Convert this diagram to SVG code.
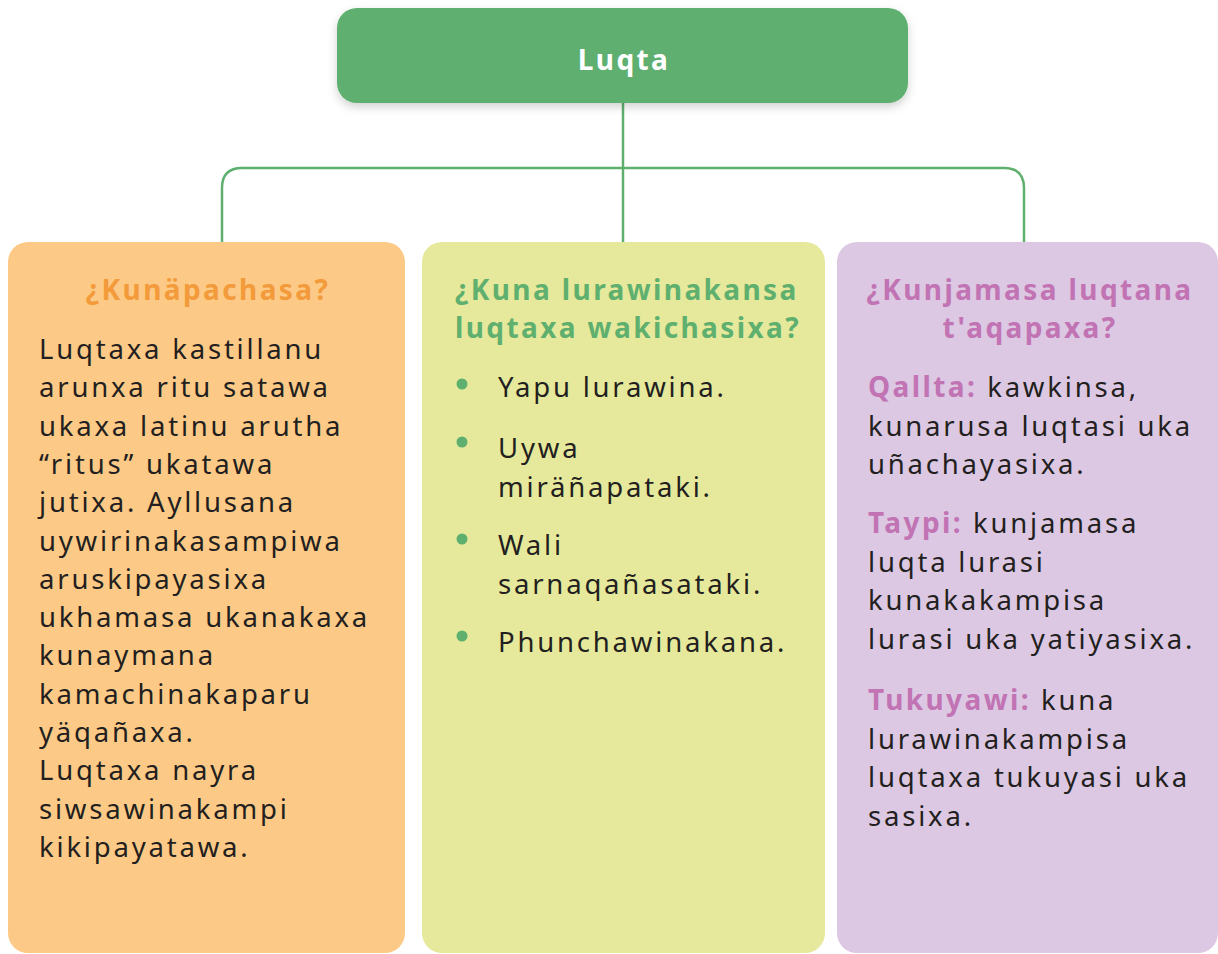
<svg xmlns="http://www.w3.org/2000/svg" width="1218" height="954" viewBox="0 0 1218 954">
<defs>
<filter id="sh" x="-10%" y="-20%" width="120%" height="160%">
<feDropShadow dx="0" dy="4" stdDeviation="5" flood-color="#000" flood-opacity="0.18"/>
</filter>
</defs>
<style>
.body{font-family:"Noto Sans","Liberation Sans",sans-serif;font-size:27.5px;letter-spacing:2.8px;fill:#231f20}
.hd{font-family:"Noto Sans","Liberation Sans",sans-serif;font-size:28px;font-weight:bold;letter-spacing:2.4px}
.conn{fill:none;stroke:#5fb06f;stroke-width:2.5}
</style>
<rect width="1218" height="954" fill="#fff"/>
<g id="connectors">
<path class="conn" d="M623 103 V242"/>
<path class="conn" d="M222 242 V188 Q222 168 242 168 H1004 Q1024 168 1024 188 V242"/>
</g>
<g id="root">
<rect x="337" y="8" width="571" height="95" rx="20" fill="#5fb06f" filter="url(#sh)"/>
<text x="624" y="70" text-anchor="middle" class="hd" fill="#fff" font-size="32" letter-spacing="1.5">Luqta</text>
</g>
<g id="when">
<rect x="8" y="242" width="397" height="711" rx="20" fill="#fcca86"/>
<text x="208" y="300" text-anchor="middle" class="hd" fill="#f39a3a">¿Kunäpachasa?</text>
<text class="body">
<tspan x="39" y="359">Luqtaxa kastillanu</tspan>
<tspan x="39" y="397.3">arunxa ritu satawa</tspan>
<tspan x="39" y="435.6">ukaxa latinu arutha</tspan>
<tspan x="39" y="473.9">“ritus” ukatawa</tspan>
<tspan x="39" y="512.2">jutixa. Ayllusana</tspan>
<tspan x="39" y="550.5">uywirinakasampiwa</tspan>
<tspan x="39" y="588.8">aruskipayasixa</tspan>
<tspan x="39" y="627.1">ukhamasa ukanakaxa</tspan>
<tspan x="39" y="665.4">kunaymana</tspan>
<tspan x="39" y="703.7">kamachinakaparu</tspan>
<tspan x="39" y="742">yäqañaxa.</tspan>
<tspan x="39" y="780.3">Luqtaxa nayra</tspan>
<tspan x="39" y="818.6">siwsawinakampi</tspan>
<tspan x="39" y="856.9">kikipayatawa.</tspan>
</text>
</g>
<g id="what">
<rect x="422" y="242" width="403" height="711" rx="20" fill="#e6e99b"/>
<text class="hd" fill="#5fb06f"><tspan x="455" y="300">¿Kuna lurawinakansa</tspan><tspan x="455" y="338">luqtaxa wakichasixa?</tspan></text>
<g fill="#5fb06f">
<circle cx="462" cy="384" r="5.5"/>
<circle cx="462" cy="442" r="5.5"/>
<circle cx="462" cy="539" r="5.5"/>
<circle cx="462" cy="636" r="5.5"/>
</g>
<text class="body">
<tspan x="498" y="397">Yapu lurawina.</tspan>
<tspan x="498" y="458">Uywa</tspan>
<tspan x="498" y="497">miräñapataki.</tspan>
<tspan x="498" y="555">Wali</tspan>
<tspan x="498" y="594">sarnaqañasataki.</tspan>
<tspan x="498" y="652">Phunchawinakana.</tspan>
</text>
</g>
<g id="how">
<rect x="837" y="242" width="381" height="711" rx="20" fill="#dcc8e2"/>
<text class="hd" fill="#c173b4" text-anchor="middle"><tspan x="1030" y="300">¿Kunjamasa luqtana</tspan><tspan x="1030" y="338">t'aqapaxa?</tspan></text>
<text class="body">
<tspan x="868" y="397"><tspan class="hd" fill="#c173b4" font-size="27.5">Qallta:</tspan> kawkinsa,</tspan>
<tspan x="868" y="435.5">kunarusa luqtasi uka</tspan>
<tspan x="868" y="474">uñachayasixa.</tspan>
<tspan x="868" y="533"><tspan class="hd" fill="#c173b4" font-size="27.5">Taypi:</tspan> kunjamasa</tspan>
<tspan x="868" y="571.5">luqta lurasi</tspan>
<tspan x="868" y="610">kunakakampisa</tspan>
<tspan x="868" y="648.5">lurasi uka yatiyasixa.</tspan>
<tspan x="868" y="710"><tspan class="hd" fill="#c173b4" font-size="27.5">Tukuyawi:</tspan> kuna</tspan>
<tspan x="868" y="748.5">lurawinakampisa</tspan>
<tspan x="868" y="787">luqtaxa tukuyasi uka</tspan>
<tspan x="868" y="825.5">sasixa.</tspan>
</text>
</g>
</svg>
